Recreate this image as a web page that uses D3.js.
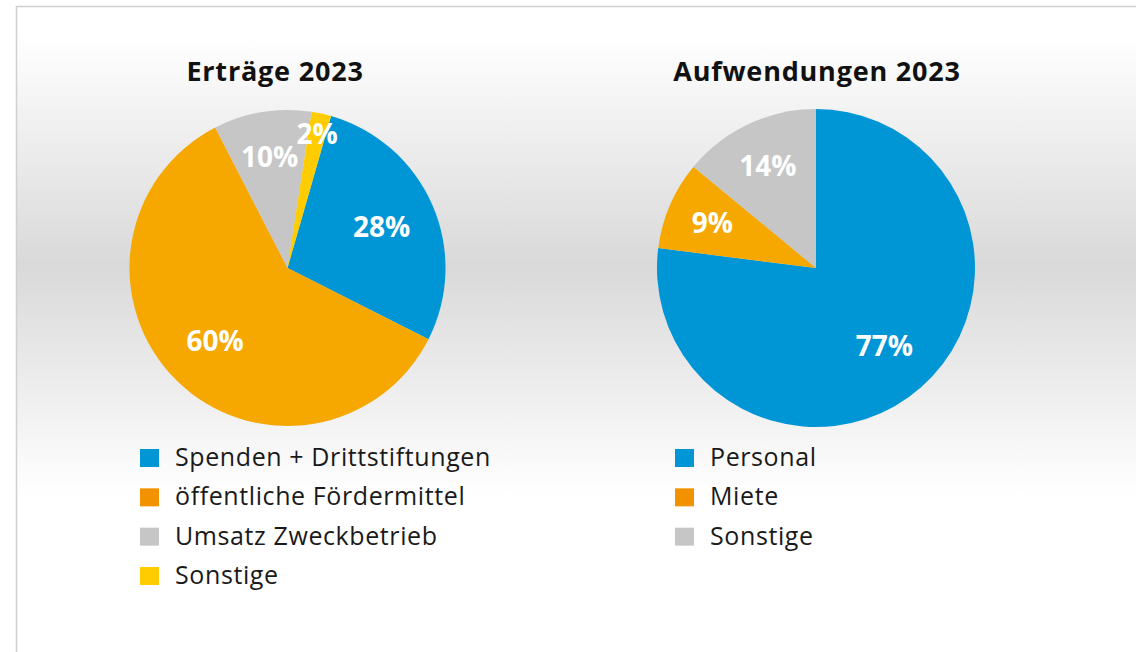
<!DOCTYPE html>
<html>
<head>
<meta charset="utf-8">
<script src="https://cdn.jsdelivr.net/npm/d3@7/dist/d3.min.js"></script>
<style>
  html, body { margin: 0; padding: 0; background: #fff; }
  svg { display: block; font-family: "Open Sans", "Noto Sans", sans-serif; }
</style>
</head>
<body>
<div id="chart"></div>
<script>
// Erträge 2023
var incomeCategories = ['Spenden + Drittstiftungen', 'öffentliche Fördermittel', 'Umsatz Zweckbetrieb', 'Sonstige'];
var incomeValues = [28, 60, 10, 2];
var incomeColors = ['#0096d6', '#f6a800', '#c6c6c6', '#ffcc00'];
var incomeLegendColors = ['#0096d6', '#f39200', '#c6c6c6', '#ffcc00'];

// Aufwendungen 2023
var costCategories = ['Personal', 'Miete', 'Sonstige'];
var costValues = [77, 9, 14];
var costColors = ['#0096d6', '#f6a800', '#c6c6c6'];
var costLegendColors = ['#0096d6', '#f39200', '#c6c6c6'];

var width = 1136, height = 652;

var svg = d3.select('#chart').append('svg')
  .attr('width', width)
  .attr('height', height);

// background gradient
var defs = svg.append('defs');
var grad = defs.append('linearGradient')
  .attr('id', 'bg')
  .attr('gradientUnits', 'userSpaceOnUse')
  .attr('x1', 0).attr('y1', 35).attr('x2', 0).attr('y2', 495);
grad.append('stop').attr('offset', '0%').attr('stop-color', '#ffffff');
grad.append('stop').attr('offset', '50%').attr('stop-color', '#d9d9d9');
grad.append('stop').attr('offset', '100%').attr('stop-color', '#ffffff');

svg.append('rect')
  .attr('x', 16.5).attr('y', 6.5)
  .attr('width', width).attr('height', height)
  .attr('fill', 'url(#bg)')
  .attr('stroke', '#d0d0d0')
  .attr('stroke-width', 1.5);

function drawPie(opts) {
  var g = svg.append('g')
    .attr('transform', 'translate(' + opts.cx + ',' + opts.cy + ')');

  var pie = d3.pie()
    .sort(null)
    .startAngle(opts.start)
    .endAngle(opts.start + 2 * Math.PI);

  var arcs = pie(opts.values);
  var arc = d3.arc().innerRadius(0).outerRadius(opts.r);
  var total = d3.sum(opts.values);

  g.selectAll('path.slice')
    .data(arcs)
    .enter().append('path')
    .attr('class', 'slice')
    .attr('d', arc)
    .attr('fill', function(d, i){ return opts.colors[i]; });

  // labels further out for narrow slices
  function labelRadius(v) {
    var p = v / total;
    if (p < 0.05) return opts.r * 0.87;
    if (p < 0.2) return opts.r * 0.71;
    return opts.r * 0.65;
  }

  g.selectAll('text.pct')
    .data(arcs)
    .enter().append('text')
    .attr('class', 'pct')
    .attr('transform', function(d){
      var lr = labelRadius(d.value);
      var c = d3.arc().innerRadius(lr).outerRadius(lr).centroid(d);
      return 'translate(' + c[0] + ',' + c[1] + ')';
    })
    .attr('text-anchor', 'middle')
    .attr('dy', '0.36em')
    .attr('fill', '#ffffff')
    .attr('font-weight', 'bold')
    .attr('font-size', 28)
    .text(function(d){ return Math.round(d.value / total * 100) + '%'; });

  svg.append('text')
    .attr('x', opts.titleX)
    .attr('y', 81)
    .attr('text-anchor', 'middle')
    .attr('font-weight', 'bold')
    .attr('font-size', 27)
    .attr('letter-spacing', 0.8)
    .attr('fill', '#111')
    .text(opts.title);

  var legend = svg.append('g')
    .attr('transform', 'translate(' + opts.legendX + ',0)');
  var rowY = d3.scalePoint()
    .domain(d3.range(4))
    .range([466, 584]);

  var rows = legend.selectAll('g.row')
    .data(opts.categories)
    .enter().append('g')
    .attr('class', 'row')
    .attr('transform', function(d, i){ return 'translate(0,' + rowY(i) + ')'; });

  rows.append('rect')
    .attr('x', 0).attr('y', -17)
    .attr('width', 19).attr('height', 18)
    .attr('fill', function(d, i){ return opts.legendColors[i]; });

  rows.append('text')
    .attr('x', 35)
    .attr('y', 0)
    .attr('font-size', 25)
    .attr('letter-spacing', 0.6)
    .attr('fill', '#1a1a1a')
    .text(function(d){ return d; });
}

drawPie({
  cx: 287.5, cy: 268, r: 158,
  start: 16 * Math.PI / 180,
  values: incomeValues,
  colors: incomeColors,
  legendColors: incomeLegendColors,
  categories: incomeCategories,
  title: 'Erträge 2023',
  titleX: 275,
  legendX: 140
});

drawPie({
  cx: 816, cy: 268, r: 159,
  start: 0,
  values: costValues,
  colors: costColors,
  legendColors: costLegendColors,
  categories: costCategories,
  title: 'Aufwendungen 2023',
  titleX: 817,
  legendX: 675
});
</script>
</body>
</html>
